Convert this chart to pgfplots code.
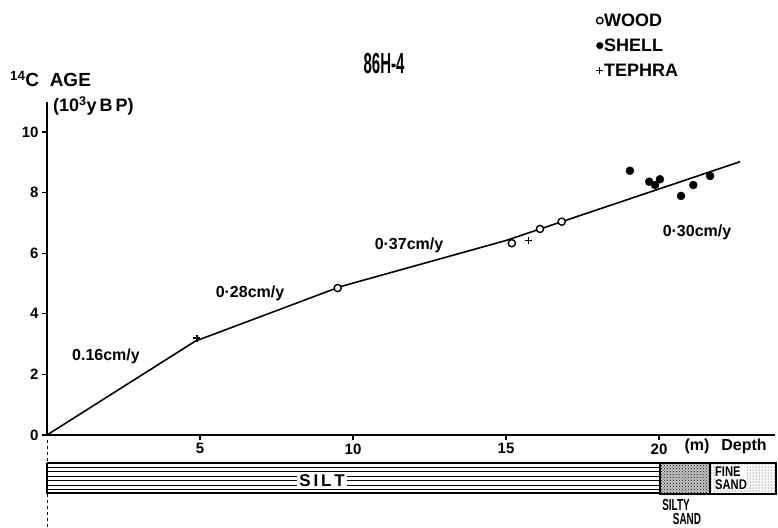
\documentclass[border=0pt]{standalone}
\usepackage{pgfplots}
\pgfplotsset{compat=1.18}
\usepackage{fontspec}
\setmainfont{Liberation Sans}
\usetikzlibrary{patterns}
\newcommand\fs[1]{\fontsize{#1}{#1}\selectfont\bfseries}
\begin{document}
\begin{tikzpicture}
\useasboundingbox (0,0) rectangle (778pt,527pt);
% ---- stratigraphic column and annotations (pixel coordinates) ----
\begin{scope}[x=1pt,y=-1pt,yshift=527pt]
  \draw[dashed, line width=0.7pt] (47,440) -- (47,527);
  \fill[white] (47,463) rectangle (776,494);
  \foreach \k in {0,...,6} \draw[line width=1.1pt] (47,{463+\k*31/7}) -- (660,{463+\k*31/7});
  \draw[line width=2.6pt] (47,493) -- (660,493);
  \draw[line width=1.2pt] (47,463) -- (47,494);
  \fill[gray!45] (660,463) rectangle (710,494);
  \fill[pattern=crosshatch dots] (660,463) rectangle (710,494);
  \fill[pattern=dots] (710,463) rectangle (776,494);
  \draw[line width=1.3pt] (660,463) rectangle (776,494);
  \draw[line width=1.3pt] (710,463) -- (710,494);
  \node[fill=white, inner sep=2pt, font=\fs{17}] at (322,481) {S\,I\,L\,T};
  \node[fill=white, inner sep=0.5pt, align=left, font=\fs{14}] at (731,478) {\scalebox{0.8}[1]{FINE}\\[-1pt]\scalebox{0.8}[1]{SAND}};
  \node[font=\fs{16}] at (676,505) {\scalebox{0.62}[1]{SILTY}};
  \node[font=\fs{16}] at (687,519) {\scalebox{0.62}[1]{SAND}};
  \node[font=\fs{16}] at (697,446) {(m)};
  \node[font=\fs{16}] at (744,446) {Depth};
  % rate labels
  \node[font=\fs{16}] at (106,356) {0.16cm/y};
  \node[font=\fs{16}] at (250,293) {0·28cm/y};
  \node[font=\fs{16}] at (409,245) {0·37cm/y};
  \node[font=\fs{16}] at (697,232) {0·30cm/y};
  % title and y label
  \node[font=\fs{20}] at (384,64) {\scalebox{0.75}[1.45]{86H-4}};
  \node[font=\fs{19}, anchor=base west, inner sep=0pt] at (10,87) {\textsuperscript{14}C\ \ AGE};
  \node[font=\fs{18}, anchor=base west, inner sep=0pt] at (53,112) {(10\textsuperscript{3}y\,B\,P)};
\end{scope}
% ---- data axis ----
\begin{axis}[
  at={(47pt,92pt)}, anchor=south west,
  x=30.6pt, y=30.3pt,
  xmin=0, xmax=23.8, ymin=0, ymax=11,
  axis lines=left,
  axis line style={-, line width=1.6pt},
  clip=false,
  tick align=outside,
  major tick length=5pt,
  tick style={line width=1.3pt, black},
  xtick={5,10,15,20},
  ytick={0,2,4,6,8,10},
  /pgf/number format/assume math mode=true,
  ticklabel style={font=\fs{15}},
  legend style={at={(axis cs:17.95,13.95)}, anchor=north west, draw=none, fill=none,
    font=\fs{18}, row sep=9pt, inner sep=0pt, nodes={inner sep=1pt}},
  legend cell align=left,
  legend image code/.code={\draw[#1] plot coordinates {(0pt,0pt)};},
  legend image post style={mark size=3.3pt},
]
\addplot[line width=1.6pt, forget plot] coordinates {(0,0) (4.85,3.1) (9.6,4.9) (15.0,6.42) (22.65,9.02)};
\addplot[only marks, mark=*, mark size=3.6pt, mark options={fill=white, draw=black, line width=1.4pt}]
  coordinates {(9.5,4.85) (15.19,6.33) (16.11,6.80) (16.82,7.04)};
\addlegendentry{WOOD}
\addplot[only marks, mark=*, mark size=4pt, mark options={fill=black, draw=black}]
  coordinates {(19.05,8.72) (19.68,8.36) (20.03,8.44) (19.87,8.25) (20.72,7.89) (21.12,8.25) (21.67,8.55)};
\addlegendentry{SHELL}
\addplot[only marks, mark=+, mark size=3.5pt, mark options={line width=1.3pt}]
  coordinates {(4.9,3.2) (15.73,6.41)};
\addlegendentry{TEPHRA}
\end{axis}
\end{tikzpicture}
\end{document}
